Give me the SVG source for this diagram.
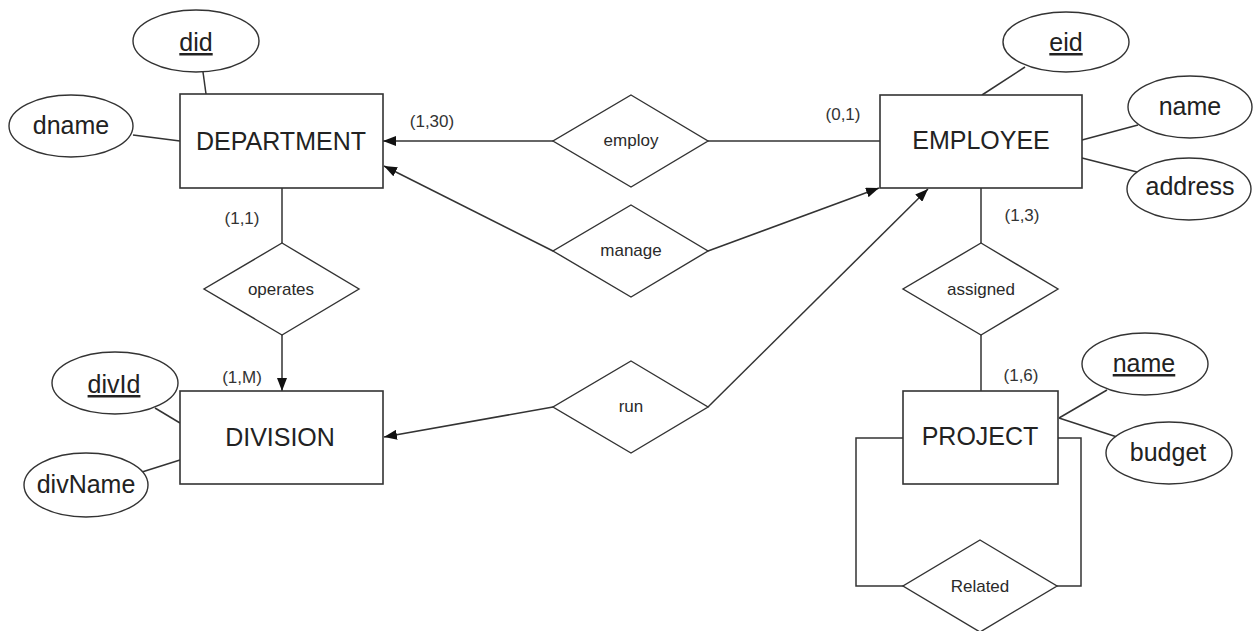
<svg xmlns="http://www.w3.org/2000/svg" width="1253" height="631" viewBox="0 0 1253 631">
<style>
.bg{fill:#ffffff}
.ent{fill:#ffffff;stroke:#333333;stroke-width:1.6}
.att{fill:#ffffff;stroke:#333333;stroke-width:1.4}
.rel{fill:#ffffff;stroke:#333333;stroke-width:1.4}
.ln{fill:none;stroke:#333333;stroke-width:1.5}
.big{font-family:"Liberation Sans",Arial,sans-serif;font-size:25px;fill:#222222;text-anchor:middle}
.sm{font-family:"Liberation Sans",Arial,sans-serif;font-size:17px;fill:#2a2a2a;text-anchor:middle}
.card{font-family:"Liberation Sans",Arial,sans-serif;font-size:17px;fill:#333333;text-anchor:middle}
.key{text-decoration:underline}
</style>
<defs>
<marker id="arr" markerUnits="userSpaceOnUse" markerWidth="14" markerHeight="10" refX="13" refY="5" orient="auto">
<path d="M0,0 L13,5 L0,10 z" fill="#111111"/>
</marker>
</defs>
<rect class="bg" x="0" y="0" width="1253" height="631"/>

<g id="connectors">
<line class="ln" x1="553" y1="141" x2="383" y2="141" marker-end="url(#arr)"/>
<line class="ln" x1="708" y1="141" x2="880" y2="141"/>
<line class="ln" x1="553" y1="251" x2="384" y2="166" marker-end="url(#arr)"/>
<line class="ln" x1="708" y1="251" x2="879" y2="188" marker-end="url(#arr)"/>
<line class="ln" x1="553" y1="407" x2="384" y2="437" marker-end="url(#arr)"/>
<line class="ln" x1="708" y1="407" x2="928" y2="189" marker-end="url(#arr)"/>
<line class="ln" x1="282" y1="188" x2="282" y2="243"/>
<line class="ln" x1="282" y1="335" x2="282" y2="391" marker-end="url(#arr)"/>
<line class="ln" x1="981" y1="188" x2="981" y2="243"/>
<line class="ln" x1="981" y1="335" x2="981" y2="391"/>
<polyline class="ln" points="903,438 856,438 856,586 903,586"/>
<polyline class="ln" points="1058,438 1081,438 1081,586 1057,586"/>
<line class="ln" x1="203" y1="72" x2="206" y2="94"/>
<line class="ln" x1="133" y1="135" x2="180" y2="141"/>
<line class="ln" x1="1025" y1="67" x2="982" y2="95"/>
<line class="ln" x1="1082" y1="140" x2="1138" y2="125"/>
<line class="ln" x1="1082" y1="158" x2="1137" y2="172"/>
<line class="ln" x1="155" y1="408" x2="180" y2="423"/>
<line class="ln" x1="142" y1="472" x2="180" y2="460"/>
<line class="ln" x1="1059" y1="418" x2="1107" y2="390"/>
<line class="ln" x1="1059" y1="418" x2="1117" y2="437"/>
<text class="card" x="432" y="127">(1,30)</text>
<text class="card" x="843" y="120">(0,1)</text>
<text class="card" x="242" y="224">(1,1)</text>
<text class="card" x="242" y="383">(1,M)</text>
<text class="card" x="1022" y="221">(1,3)</text>
<text class="card" x="1021" y="381">(1,6)</text>
</g>

<g id="DEPARTMENT">
<rect class="ent" x="180" y="94" width="203" height="94"/>
<text class="big" x="281" y="150">DEPARTMENT</text>
</g>
<g id="EMPLOYEE">
<rect class="ent" x="880" y="95" width="202" height="93"/>
<text class="big" x="981" y="149">EMPLOYEE</text>
</g>
<g id="DIVISION">
<rect class="ent" x="180" y="391" width="203" height="93"/>
<text class="big" x="280" y="446">DIVISION</text>
</g>
<g id="PROJECT">
<rect class="ent" x="903" y="391" width="155" height="93"/>
<text class="big" x="980" y="445">PROJECT</text>
</g>

<g id="did">
<ellipse class="att" cx="196" cy="41" rx="63" ry="31"/>
<text class="big key" x="196" y="51">did</text>
</g>
<g id="dname">
<ellipse class="att" cx="71" cy="126" rx="62" ry="31"/>
<text class="big" x="71" y="134">dname</text>
</g>
<g id="eid">
<ellipse class="att" cx="1066" cy="42" rx="63" ry="30"/>
<text class="big key" x="1066" y="51">eid</text>
</g>
<g id="name">
<ellipse class="att" cx="1190" cy="107" rx="62" ry="31"/>
<text class="big" x="1190" y="115">name</text>
</g>
<g id="address">
<ellipse class="att" cx="1189" cy="189" rx="62" ry="31"/>
<text class="big" x="1190" y="195">address</text>
</g>
<g id="divId">
<ellipse class="att" cx="115" cy="383" rx="63" ry="31"/>
<text class="big key" x="114" y="393">divId</text>
</g>
<g id="divName">
<ellipse class="att" cx="86" cy="485" rx="62" ry="32"/>
<text class="big" x="86" y="493">divName</text>
</g>
<g id="projname">
<ellipse class="att" cx="1145" cy="364" rx="63" ry="31"/>
<text class="big key" x="1144" y="372">name</text>
</g>
<g id="budget">
<ellipse class="att" cx="1169" cy="453" rx="63" ry="31"/>
<text class="big" x="1168" y="461">budget</text>
</g>

<g id="employ">
<polygon class="rel" points="631,95 708,141 631,187 553,141"/>
<text class="sm" x="631" y="146">employ</text>
</g>
<g id="manage">
<polygon class="rel" points="631,205 708,251 631,297 553,251"/>
<text class="sm" x="631" y="256">manage</text>
</g>
<g id="run">
<polygon class="rel" points="631,361 708,407 631,453 553,407"/>
<text class="sm" x="631" y="412">run</text>
</g>
<g id="operates">
<polygon class="rel" points="282,243 359,289 282,335 204,289"/>
<text class="sm" x="281" y="295">operates</text>
</g>
<g id="assigned">
<polygon class="rel" points="981,243 1058,289 981,335 903,289"/>
<text class="sm" x="981" y="295">assigned</text>
</g>
<g id="Related">
<polygon class="rel" points="980,540 1057,586 980,632 903,586"/>
<text class="sm" x="980" y="592">Related</text>
</g>
</svg>
